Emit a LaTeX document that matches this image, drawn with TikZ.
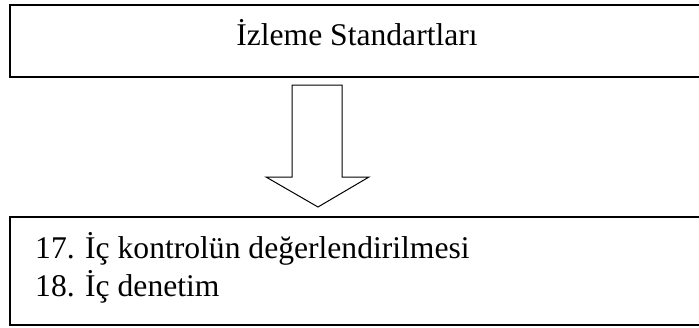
\documentclass[tikz,border=0pt]{standalone}
\usepackage{fontspec}
\setmainfont{Liberation Serif}
\begin{document}
\begin{tikzpicture}[x=1pt,y=-1pt,
  boxstyle/.style={draw=black,line width=1.6pt,inner sep=0pt},
  txt/.style={font=\fontsize{31.6}{38}\selectfont,inner sep=0pt},
  blockarrow/.style={draw=black,line width=1pt,fill=white,line join=miter}]
\useasboundingbox (0,0) rectangle (699,327);
\clip (0,0) rectangle (699,327);
\node[boxstyle,minimum width=695pt,minimum height=72pt] (top) at (357.5,41) {};
\node[txt,anchor=base] (title) at (357,45) {İzleme Standartları};
\node[boxstyle,minimum width=695pt,minimum height=108pt] (bot) at (357.5,271) {};
\node[txt,anchor=base west] (l1) at (35,258) {17. İç kontrolün değerlendirilmesi};
\node[txt,anchor=base west] (l2) at (35,296) {18. İç denetim};
\draw[blockarrow] (292,85) -- (342,85) -- (342,177) -- (369,177) -- (318,207) -- (266,177) -- (292,177) -- cycle;
\end{tikzpicture}
\end{document}
